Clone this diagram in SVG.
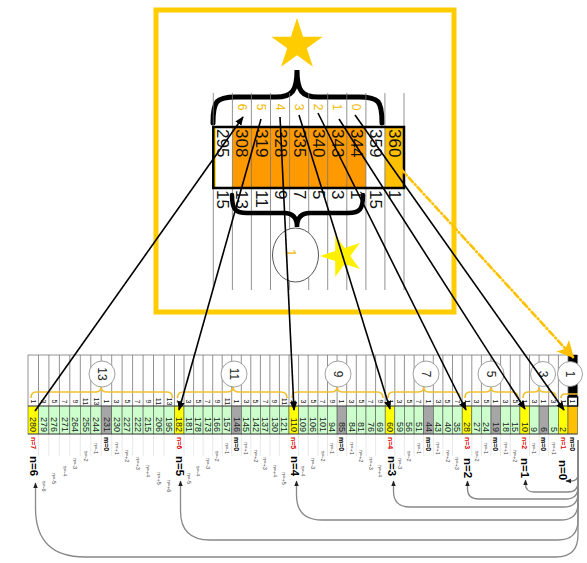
<svg xmlns="http://www.w3.org/2000/svg" width="587" height="563" viewBox="0 0 587 563">
<defs>
<marker id="ab" viewBox="0 0 10 10" refX="9" refY="5" markerWidth="9" markerHeight="9" markerUnits="userSpaceOnUse" orient="auto"><path d="M0,1 L10,5 L0,9 z" fill="#000"/></marker>
<marker id="ag" viewBox="0 0 10 10" refX="9" refY="5" markerWidth="6" markerHeight="6" markerUnits="userSpaceOnUse" orient="auto"><path d="M0,1 L10,5 L0,9 z" fill="#222"/></marker>
<marker id="ao" viewBox="0 0 10 10" refX="9" refY="5" markerWidth="17" markerHeight="17" markerUnits="userSpaceOnUse" orient="auto"><path d="M0,0 L10,5 L0,10 L2.5,5 z" fill="#FFC000"/></marker>
<style>
text{font-family:"Liberation Sans",Arial,sans-serif}
.v{font-size:9px;text-anchor:end;dominant-baseline:central;fill:#222}
.h{font-size:7px;text-anchor:middle;dominant-baseline:central;fill:#111}
.r{font-size:7px;font-weight:bold;fill:#e00000;dominant-baseline:central}
.m{font-size:7px;font-weight:bold;fill:#000;dominant-baseline:central}
.s{font-size:5.5px;fill:#444;text-anchor:middle;dominant-baseline:central}
.b{font-size:11.5px;font-weight:bold;fill:#000;dominant-baseline:central}
.c{font-size:12px;text-anchor:middle;dominant-baseline:central;fill:#222}
.tv{font-size:17px;dominant-baseline:central;fill:#111}
.ty{font-size:12px;text-anchor:middle;dominant-baseline:central;fill:#F2B900}
.g{fill:#CCFFCC}.y{fill:#FFFF00}.k{fill:#A6A6A6}.o{fill:#FFC000}.w{fill:#fff}
.cell{stroke:#555;stroke-width:.6}
.grid{stroke:#777;stroke-width:.8;fill:none}
.faint{stroke:#e2e2e2;stroke-width:.8;fill:none}
.conn{stroke:#000;stroke-width:1.6;fill:none}
.gc{stroke:#888;stroke-width:1.3;fill:none}
.br{stroke:#F0C030;stroke-width:1.6;fill:none}
.circ{fill:#fff;stroke:#888;stroke-width:.8}
</style>
</defs>
<rect width="587" height="563" fill="#fff"/>

<g id="topbox">
<rect x="156" y="10" width="298" height="302" fill="#fff" stroke="#FFCC00" stroke-width="5"/>
<polygon points="297,18 303.1,36.7 322.7,36.7 306.8,48.2 312.9,66.8 297,55.3 281.1,66.8 287.2,48.2 271.3,36.7 290.9,36.7" fill="#FFCC00"/>
<path d="M213,123 C213,101 216,97 236,97 L276,97 C292,97 297,91 297,70 C297,91 302,97 318,97 L359,97 C379,97 382,101 382,123" fill="none" stroke="#000" stroke-width="5" stroke-linecap="round"/>
<rect x="232.4" y="127" width="133.5" height="61" fill="#FF9900"/>
<rect x="384.9" y="127" width="19.1" height="61" fill="#FFC000"/>
<rect x="213.3" y="127" width="2.5" height="61" fill="#FFD700"/>
<path class="grid" d="M213.3,93V290M232.4,93V290M251.4,93V290M270.5,93V290M289.6,93V290M308.7,93V290M327.7,93V290M346.8,93V290M365.9,93V290M384.9,93V290M404,93V290"/>
<rect x="213.3" y="127" width="190.7" height="61" fill="none" stroke="#000" stroke-width="2.5"/>
<path d="M232,195 C232,209 235,213 247,213 L284,213 C293,213 297,218 297,227 C297,218 301,213 310,213 L348,213 C360,213 363,209 363,195" fill="none" stroke="#000" stroke-width="4.5" stroke-linecap="round"/>
<ellipse cx="295.5" cy="255" rx="23" ry="27" fill="#fff" stroke="#555" stroke-width="1"/>
<polygon points="320,256 335.2,251.1 335.2,235.1 344.6,248 359.8,243.1 350.4,256 359.8,268.9 344.6,264 335.2,276.9 335.2,260.9" fill="#FFF000"/>
<g transform="rotate(90)">
<text class="tv" x="129" y="-222.8">295</text>
<text class="tv" x="129" y="-241.9">308</text>
<text class="tv" x="129" y="-261">319</text>
<text class="tv" x="129" y="-280">328</text>
<text class="tv" x="129" y="-299.1">335</text>
<text class="tv" x="129" y="-318.2">340</text>
<text class="tv" x="129" y="-337.3">343</text>
<text class="tv" x="129" y="-356.3">344</text>
<text class="tv" x="129" y="-375.4">359</text>
<text class="tv" x="129" y="-394.5">360</text>
<text class="tv" x="190" y="-222.8">15</text>
<text class="tv" x="190" y="-241.9">13</text>
<text class="tv" x="190" y="-261">11</text>
<text class="tv" x="190" y="-280">9</text>
<text class="tv" x="190" y="-299.1">7</text>
<text class="tv" x="190" y="-318.2">5</text>
<text class="tv" x="190" y="-337.3">3</text>
<text class="tv" x="190" y="-356.3">1</text>
<text class="tv" x="190" y="-375.4">15</text>
<text class="tv" x="190" y="-394.5">1</text>
<text class="ty" x="107" y="-241.9">6</text>
<text class="ty" x="107" y="-261">5</text>
<text class="ty" x="107" y="-280">4</text>
<text class="ty" x="107" y="-299.1">3</text>
<text class="ty" x="107" y="-318.2">2</text>
<text class="ty" x="107" y="-337.3">1</text>
<text class="ty" x="107" y="-356.3">0</text>
<text class="ty" x="253" y="-291" style="font-size:14px">1</text>
</g>
</g>

<g id="strip">
<path class="grid" d="M28,355H577.6"/>
<rect x="568" y="355" width="9.6" height="43" fill="#000"/>
<path class="grid" d="M28,355V406M38.5,355V406M48.9,355V406M59.4,355V406M69.8,355V406M80.3,355V406M90.8,355V406M101.2,355V406M111.7,355V406M122.1,355V406M132.6,355V406M143.1,355V406M153.5,355V406M164,355V406M174.5,355V406M184,355V406M193.6,355V406M203.1,355V406M212.7,355V406M222.2,355V406M231.7,355V406M241.3,355V406M250.8,355V406M260.4,355V406M269.9,355V406M279.4,355V406M289,355V406M298.6,355V406M308.2,355V406M317.9,355V406M327.5,355V406M337.1,355V406M346.7,355V406M356.3,355V406M366,355V406M375.6,355V406M385.2,355V406M394.8,355V406M404.4,355V406M414.1,355V406M423.7,355V406M433.3,355V406M442.9,355V406M452.5,355V406M462.2,355V406M471.8,355V406M481.4,355V406M491,355V406M500.6,355V406M510.3,355V406M519.9,355V406M529.5,355V406M539.1,355V406M548.7,355V406M558.4,355V406M568,355V406M577.6,355V406"/>
<path class="faint" d="M38.5,434V456M48.9,434V456M59.4,434V456M69.8,434V456M80.3,434V456M90.8,434V456M101.2,434V456M111.7,434V456M122.1,434V456M132.6,434V456M143.1,434V456M153.5,434V456M164,434V456M184,434V456M193.6,434V456M203.1,434V456M212.7,434V456M222.2,434V456M231.7,434V456M241.3,434V456M250.8,434V456M260.4,434V456M269.9,434V456M279.4,434V456M298.6,434V456M308.2,434V456M317.9,434V456M327.5,434V456M337.1,434V456M346.7,434V456M356.3,434V456M366,434V456M375.6,434V456M394.8,434V456M404.4,434V456M414.1,434V456M423.7,434V456M433.3,434V456M442.9,434V456M452.5,434V456M471.8,434V456M481.4,434V456M491,434V456M500.6,434V456M510.3,434V456M529.5,434V456M539.1,434V456M548.7,434V456"/>
<g class="cell">
<rect class="y" x="28" y="406" width="10.5" height="28"/>
<rect class="g" x="38.5" y="406" width="10.4" height="28"/>
<rect class="g" x="48.9" y="406" width="10.5" height="28"/>
<rect class="g" x="59.4" y="406" width="10.4" height="28"/>
<rect class="g" x="69.8" y="406" width="10.5" height="28"/>
<rect class="g" x="80.3" y="406" width="10.5" height="28"/>
<rect class="g" x="90.8" y="406" width="10.4" height="28"/>
<rect class="k" x="101.2" y="406" width="10.5" height="28"/>
<rect class="g" x="111.7" y="406" width="10.4" height="28"/>
<rect class="g" x="122.1" y="406" width="10.5" height="28"/>
<rect class="g" x="132.6" y="406" width="10.5" height="28"/>
<rect class="g" x="143.1" y="406" width="10.4" height="28"/>
<rect class="g" x="153.5" y="406" width="10.5" height="28"/>
<rect class="g" x="164" y="406" width="10.5" height="28"/>
<rect class="y" x="174.5" y="406" width="9.5" height="28"/>
<rect class="g" x="184" y="406" width="9.6" height="28"/>
<rect class="g" x="193.6" y="406" width="9.5" height="28"/>
<rect class="g" x="203.1" y="406" width="9.6" height="28"/>
<rect class="g" x="212.7" y="406" width="9.5" height="28"/>
<rect class="g" x="222.2" y="406" width="9.5" height="28"/>
<rect class="k" x="231.7" y="406" width="9.6" height="28"/>
<rect class="g" x="241.3" y="406" width="9.5" height="28"/>
<rect class="g" x="250.8" y="406" width="9.6" height="28"/>
<rect class="g" x="260.4" y="406" width="9.5" height="28"/>
<rect class="g" x="269.9" y="406" width="9.5" height="28"/>
<rect class="g" x="279.4" y="406" width="9.6" height="28"/>
<rect class="y" x="289" y="406" width="9.6" height="28"/>
<rect class="g" x="298.6" y="406" width="9.6" height="28"/>
<rect class="g" x="308.2" y="406" width="9.7" height="28"/>
<rect class="g" x="317.9" y="406" width="9.6" height="28"/>
<rect class="g" x="327.5" y="406" width="9.6" height="28"/>
<rect class="k" x="337.1" y="406" width="9.6" height="28"/>
<rect class="g" x="346.7" y="406" width="9.6" height="28"/>
<rect class="g" x="356.3" y="406" width="9.7" height="28"/>
<rect class="g" x="366" y="406" width="9.6" height="28"/>
<rect class="g" x="375.6" y="406" width="9.6" height="28"/>
<rect class="y" x="385.2" y="406" width="9.6" height="28"/>
<rect class="g" x="394.8" y="406" width="9.6" height="28"/>
<rect class="g" x="404.4" y="406" width="9.7" height="28"/>
<rect class="g" x="414.1" y="406" width="9.6" height="28"/>
<rect class="k" x="423.7" y="406" width="9.6" height="28"/>
<rect class="g" x="433.3" y="406" width="9.6" height="28"/>
<rect class="g" x="442.9" y="406" width="9.6" height="28"/>
<rect class="g" x="452.5" y="406" width="9.7" height="28"/>
<rect class="y" x="462.2" y="406" width="9.6" height="28"/>
<rect class="g" x="471.8" y="406" width="9.6" height="28"/>
<rect class="g" x="481.4" y="406" width="9.6" height="28"/>
<rect class="k" x="491" y="406" width="9.6" height="28"/>
<rect class="g" x="500.6" y="406" width="9.7" height="28"/>
<rect class="g" x="510.3" y="406" width="9.6" height="28"/>
<rect class="y" x="519.9" y="406" width="9.6" height="28"/>
<rect class="g" x="529.5" y="406" width="9.6" height="28"/>
<rect class="k" x="539.1" y="406" width="9.6" height="28"/>
<rect class="g" x="548.7" y="406" width="9.7" height="28"/>
<rect class="y" x="558.4" y="406" width="9.6" height="28"/>
<rect class="o" x="568" y="406" width="9.6" height="28"/>
</g>
<rect x="568" y="397" width="9.6" height="9" fill="#fff" stroke="#000" stroke-width="1.4"/>
<path d="M28,406H577.6M28,434H577.6" stroke="#444" stroke-width=".8"/>
<g transform="rotate(90)">
<text class="v" x="432" y="-33.2">280</text><text class="v" x="432" y="-43.7">279</text><text class="v" x="432" y="-54.2">276</text><text class="v" x="432" y="-64.6">271</text><text class="v" x="432" y="-75.1">264</text><text class="v" x="432" y="-85.5">255</text><text class="v" x="432" y="-96">244</text><text class="v" x="432" y="-106.5">231</text><text class="v" x="432" y="-116.9">230</text><text class="v" x="432" y="-127.4">227</text><text class="v" x="432" y="-137.8">222</text><text class="v" x="432" y="-148.3">215</text><text class="v" x="432" y="-158.8">206</text><text class="v" x="432" y="-169.2">195</text>
<text class="v" x="432" y="-179.3">182</text><text class="v" x="432" y="-188.8">181</text><text class="v" x="432" y="-198.4">178</text><text class="v" x="432" y="-207.9">173</text><text class="v" x="432" y="-217.4">166</text><text class="v" x="432" y="-227">157</text><text class="v" x="432" y="-236.5">146</text><text class="v" x="432" y="-246.1">145</text><text class="v" x="432" y="-255.6">142</text><text class="v" x="432" y="-265.1">137</text><text class="v" x="432" y="-274.7">130</text><text class="v" x="432" y="-284.2">121</text>
<text class="v" x="432" y="-293.8">110</text><text class="v" x="432" y="-303.4">109</text><text class="v" x="432" y="-313.1">106</text><text class="v" x="432" y="-322.7">101</text><text class="v" x="432" y="-332.3">94</text><text class="v" x="432" y="-341.9">85</text><text class="v" x="432" y="-351.5">84</text><text class="v" x="432" y="-361.2">81</text><text class="v" x="432" y="-370.8">76</text><text class="v" x="432" y="-380.4">69</text>
<text class="v" x="432" y="-390">60</text><text class="v" x="432" y="-399.6">59</text><text class="v" x="432" y="-409.3">56</text><text class="v" x="432" y="-418.9">51</text><text class="v" x="432" y="-428.5">44</text><text class="v" x="432" y="-438.1">43</text><text class="v" x="432" y="-447.7">40</text><text class="v" x="432" y="-457.4">35</text>
<text class="v" x="432" y="-467">28</text><text class="v" x="432" y="-476.6">27</text><text class="v" x="432" y="-486.2">24</text><text class="v" x="432" y="-495.8">19</text><text class="v" x="432" y="-505.5">18</text><text class="v" x="432" y="-515.1">15</text>
<text class="v" x="432" y="-524.7">10</text><text class="v" x="432" y="-534.3">9</text><text class="v" x="432" y="-543.9">6</text><text class="v" x="432" y="-553.6">5</text><text class="v" x="432" y="-563.2">2</text>
<text class="h" x="401.5" y="-33.2">1</text><text class="h" x="401.5" y="-43.7">3</text><text class="h" x="401.5" y="-54.2">5</text><text class="h" x="401.5" y="-64.6">7</text><text class="h" x="401.5" y="-75.1">9</text><text class="h" x="401.5" y="-85.5">11</text><text class="h" x="401.5" y="-96">13</text><text class="h" x="401.5" y="-106.5">1</text><text class="h" x="401.5" y="-116.9">3</text><text class="h" x="401.5" y="-127.4">5</text><text class="h" x="401.5" y="-137.8">7</text><text class="h" x="401.5" y="-148.3">9</text><text class="h" x="401.5" y="-158.8">11</text><text class="h" x="401.5" y="-169.2">13</text>
<text class="h" x="401.5" y="-179.3">1</text><text class="h" x="401.5" y="-188.8">3</text><text class="h" x="401.5" y="-198.4">5</text><text class="h" x="401.5" y="-207.9">7</text><text class="h" x="401.5" y="-217.4">9</text><text class="h" x="401.5" y="-227">11</text><text class="h" x="401.5" y="-236.5">1</text><text class="h" x="401.5" y="-246.1">3</text><text class="h" x="401.5" y="-255.6">5</text><text class="h" x="401.5" y="-265.1">7</text><text class="h" x="401.5" y="-274.7">9</text><text class="h" x="401.5" y="-284.2">11</text>
<text class="h" x="401.5" y="-293.8">1</text><text class="h" x="401.5" y="-303.4">3</text><text class="h" x="401.5" y="-313.1">5</text><text class="h" x="401.5" y="-322.7">7</text><text class="h" x="401.5" y="-332.3">9</text><text class="h" x="401.5" y="-341.9">1</text><text class="h" x="401.5" y="-351.5">3</text><text class="h" x="401.5" y="-361.2">5</text><text class="h" x="401.5" y="-370.8">7</text><text class="h" x="401.5" y="-380.4">9</text>
<text class="h" x="401.5" y="-390">1</text><text class="h" x="401.5" y="-399.6">3</text><text class="h" x="401.5" y="-409.3">5</text><text class="h" x="401.5" y="-418.9">7</text><text class="h" x="401.5" y="-428.5">1</text><text class="h" x="401.5" y="-438.1">3</text><text class="h" x="401.5" y="-447.7">5</text><text class="h" x="401.5" y="-457.4">7</text>
<text class="h" x="401.5" y="-467">1</text><text class="h" x="401.5" y="-476.6">3</text><text class="h" x="401.5" y="-486.2">5</text><text class="h" x="401.5" y="-495.8">1</text><text class="h" x="401.5" y="-505.5">3</text><text class="h" x="401.5" y="-515.1">5</text>
<text class="h" x="401.5" y="-524.7">1</text><text class="h" x="401.5" y="-534.3">3</text><text class="h" x="401.5" y="-543.9">1</text><text class="h" x="401.5" y="-553.6">3</text><text class="h" x="401.5" y="-563.2">1</text><text class="h" x="401.5" y="-572.8">1</text>
</g>
</g>

<g id="groups">
<g id="grp13"><path class="br" d="M31,398 Q31,392 36,392 H95 Q101.2,392 101.2,387 Q101.2,392 107,392 H167 Q172.5,392 172.5,398"/><circle class="circ" cx="102" cy="374" r="13"/><text class="c" transform="translate(102,374) rotate(90)">13</text></g>
<g id="grp11"><path class="br" d="M177.5,398 Q177.5,392 183,392 H227 Q233,392 233,387 Q233,392 239,392 H281 Q287,392 287,398"/><circle class="circ" cx="234" cy="374" r="13"/><text class="c" transform="translate(234,374) rotate(90)">11</text></g>
<g id="grp9"><path class="br" d="M292,398 Q292,392 297,392 H331 Q337.1,392 337.1,387 Q337.1,392 343,392 H377 Q383,392 383,398"/><circle class="circ" cx="338" cy="374" r="13"/><text class="c" transform="translate(338,374) rotate(90)">9</text></g>
<g id="grp7"><path class="br" d="M388,398 Q388,392 393,392 H418 Q423.7,392 423.7,387 Q423.7,392 429,392 H454 Q460,392 460,398"/><circle class="circ" cx="426" cy="374" r="13"/><text class="c" transform="translate(426,374) rotate(90)">7</text></g>
<g id="grp5"><path class="br" d="M465,398 Q465,392 470,392 H485 Q491,392 491,387 Q491,392 497,392 H512 Q518,392 518,398"/><circle class="circ" cx="491" cy="374" r="13"/><text class="c" transform="translate(491,374) rotate(90)">5</text></g>
<g id="grp3"><path class="br" d="M523,398 Q523,392 528,392 H534 Q539.1,392 539.1,387 Q539.1,392 544,392 H551 Q556,392 556,398"/><circle class="circ" cx="543" cy="374" r="12.5"/><text class="c" transform="translate(543,374) rotate(90)">3</text></g>
<g id="grp1"><path class="br" d="M561,398 Q561,394 565,394 H578"/><circle class="circ" cx="570" cy="374" r="12.5"/><text class="c" transform="translate(570,374) rotate(90)">1</text></g>
</g>

<g id="labels" transform="rotate(90)">
<text class="r" x="437" y="-33.2">n=7</text><text class="r" x="437" y="-179.3">n=6</text><text class="r" x="437" y="-293.8">n=5</text><text class="r" x="437" y="-390">n=4</text><text class="r" x="437" y="-467">n=3</text><text class="r" x="437" y="-524.7">n=2</text><text class="r" x="437" y="-563.2">n=1</text>
<text class="m" x="437" y="-106.5">m=0</text><text class="m" x="437" y="-236.5">m=0</text><text class="m" x="437" y="-341.9">m=0</text><text class="m" x="437" y="-428.5">m=0</text><text class="m" x="437" y="-495.8">m=0</text><text class="m" x="437" y="-543.9">m=0</text><text class="m" x="437" y="-572.8">m=0</text>
<text class="b" x="456" y="-33.5">n=6</text><text class="b" x="456" y="-179.5">n=5</text><text class="b" x="456" y="-294.5">n=4</text><text class="b" x="456" y="-391.5">n=3</text><text class="b" x="458" y="-467.5">n=2</text><text class="b" x="458" y="-525">n=1</text><text class="b" x="460" y="-563">n=0</text>
<text class="s" x="486" y="-43.7">n=-6</text><text class="s" x="478.5" y="-54.2">n=-5</text><text class="s" x="471" y="-64.6">n=-4</text><text class="s" x="463.5" y="-75.1">n=-3</text><text class="s" x="456" y="-85.5">n=-2</text><text class="s" x="448.5" y="-96">n=-1</text>
<text class="s" x="448.5" y="-116.9">n=+1</text><text class="s" x="456" y="-127.4">n=+2</text><text class="s" x="463.5" y="-137.8">n=+3</text><text class="s" x="471" y="-148.3">n=+4</text><text class="s" x="478.5" y="-158.8">n=+5</text><text class="s" x="486" y="-169.2">n=+6</text>
<text class="s" x="478.5" y="-188.8">n=-5</text><text class="s" x="471" y="-198.4">n=-4</text><text class="s" x="463.5" y="-207.9">n=-3</text><text class="s" x="456" y="-217.4">n=-2</text><text class="s" x="448.5" y="-227">n=-1</text>
<text class="s" x="448.5" y="-246.1">n=+1</text><text class="s" x="456" y="-255.6">n=+2</text><text class="s" x="463.5" y="-265.1">n=+3</text><text class="s" x="471" y="-274.7">n=+4</text><text class="s" x="478.5" y="-284.2">n=+5</text>
<text class="s" x="471" y="-303.4">n=-4</text><text class="s" x="463.5" y="-313.1">n=-3</text><text class="s" x="456" y="-322.7">n=-2</text><text class="s" x="448.5" y="-332.3">n=-1</text>
<text class="s" x="448.5" y="-351.5">n=+1</text><text class="s" x="456" y="-361.2">n=+2</text><text class="s" x="463.5" y="-370.8">n=+3</text><text class="s" x="471" y="-380.4">n=+4</text>
<text class="s" x="463.5" y="-399.6">n=-3</text><text class="s" x="456" y="-409.3">n=-2</text><text class="s" x="448.5" y="-418.9">n=-1</text>
<text class="s" x="448.5" y="-438.1">n=+1</text><text class="s" x="456" y="-447.7">n=+2</text><text class="s" x="463.5" y="-457.4">n=+3</text>
<text class="s" x="456" y="-476.6">n=-2</text><text class="s" x="448.5" y="-486.2">n=-1</text>
<text class="s" x="448.5" y="-505.5">n=+1</text><text class="s" x="456" y="-515.1">n=+2</text>
<text class="s" x="448.5" y="-534.3">n=-1</text><text class="s" x="448.5" y="-553.6">n=+1</text>
</g>

<g id="connectors">
<path class="conn" d="M35,411 L243,117" marker-end="url(#ab)"/>
<path class="conn" d="M261,119 L179,410" marker-end="url(#ab)"/>
<path class="conn" d="M280,117 L294,410" marker-end="url(#ab)"/>
<path class="conn" d="M299,115 L390,409" marker-end="url(#ab)"/>
<path class="conn" d="M318,113 L466,410" marker-end="url(#ab)"/>
<path class="conn" d="M339,119 L525,409" marker-end="url(#ab)"/>
<path class="conn" d="M355,115 L564,410" marker-end="url(#ab)"/>
<path d="M400,168 L573,357" fill="none" stroke="#FFC000" stroke-width="2.6" stroke-linecap="round" stroke-dasharray="6 3 1 3" marker-end="url(#ao)"/>
<path class="gc" d="M578,440 V474 Q578,481 571,481 H566" marker-end="url(#ag)"/>
<path class="gc" d="M578,440 V482 Q578,492 568,492 H534 Q525.5,492 525.5,484 V480" marker-end="url(#ag)"/>
<path class="gc" d="M578,440 V487 Q578,499 566,499 H479 Q467.5,499 467.5,489 V481" marker-end="url(#ag)"/>
<path class="gc" d="M578,440 V493 Q578,507 564,507 H410 Q393.5,507 393.5,491 V481" marker-end="url(#ag)"/>
<path class="gc" d="M578,440 V503 Q578,520 561,520 H322 Q296.5,520 296.5,495 V481" marker-end="url(#ag)"/>
<path class="gc" d="M578,440 V520 Q578,540 558,540 H210 Q180.5,540 180.5,511 V481" marker-end="url(#ag)"/>
<path class="gc" d="M578,440 V535 Q578,557 556,557 H85 Q35.5,557 35.5,508 V483" marker-end="url(#ag)"/>
</g>
</svg>
